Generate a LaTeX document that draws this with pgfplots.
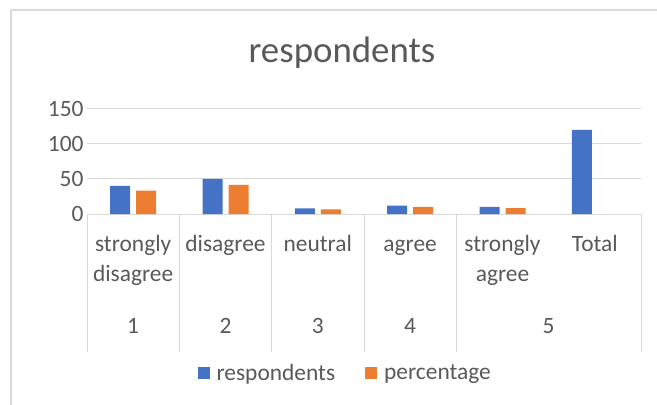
\documentclass[border=0pt]{standalone}
\usepackage{pgfplots}
\pgfplotsset{compat=1.18}
\usepackage{fontspec}
\setmainfont{Carlito}
\definecolor{txt}{HTML}{595959}
\definecolor{gridc}{HTML}{D9D9D9}
\definecolor{cblue}{HTML}{4472C4}
\definecolor{corange}{HTML}{ED7D31}
\begin{document}
\begin{tikzpicture}
\useasboundingbox (0,0) rectangle (657bp,405bp);
\draw[gridc, line width=1.3bp] (11bp,0) -- (11bp,395bp) -- (700bp,395bp);
\node[text=txt, font=\fontsize{37}{44}\selectfont, anchor=base] at (342bp,342bp) {respondents};
\begin{axis}[
  at={(87bp,191bp)}, anchor=south west,
  scale only axis, width=554bp, height=105bp,
  xmin=-0.5, xmax=5.5, ymin=0, ymax=150,
  ybar=6bp, bar width=20bp,
  ytick={0,50,100,150},
  ymajorgrids, grid style={gridc, line width=1bp},
  axis line style={draw=none},
  tick style={draw=none},
  xtick={0,1,2,3,4,5},
  xticklabels={{\strut strongly\\\strut disagree},{\strut disagree},{\strut neutral},{\strut agree},{\strut strongly\\\strut agree},{\strut Total}},
  ticklabel style={font=\fontsize{23.5}{30}\selectfont, text=txt},
  xticklabel style={align=center, anchor=north, yshift=-9bp},
  /pgf/number format/assume math mode=true,
  clip=false,
  legend style={at={(0.466,-1.514)}, anchor=center, draw=none, fill=none,
    font=\fontsize{23.5}{30}\selectfont, text=txt,
    /tikz/every even column/.append style={column sep=28bp}},
  legend columns=2,
]
\addplot[fill=cblue, draw=none, legend image code/.code={\fill[cblue] (0bp,-6bp) rectangle (12bp,6bp); \path (0bp,0bp) (17bp,0bp);}]
  coordinates {(0,40) (1,50) (2,8) (3,12) (4,10) (5,120)};
\addplot[fill=corange, draw=none, legend image code/.code={\fill[corange] (0bp,-6bp) rectangle (12bp,6bp); \path (0bp,0bp) (17bp,0bp);}]
  coordinates {(0,33.33) (1,41.67) (2,6.67) (3,10) (4,8.33)};
\legend{respondents, percentage}
\foreach \xx in {-0.5,0.5,1.5,2.5,3.5,5.5}{
  \edef\tmp{\noexpand\draw[gridc, line width=1bp] (axis cs:\xx,0) -- ++(0bp,-138bp);}
  \tmp
}
\node[text=txt, font=\fontsize{23.5}{30}\selectfont, anchor=base, yshift=-119bp] at (axis cs:0,0) {1};
\node[text=txt, font=\fontsize{23.5}{30}\selectfont, anchor=base, yshift=-119bp] at (axis cs:1,0) {2};
\node[text=txt, font=\fontsize{23.5}{30}\selectfont, anchor=base, yshift=-119bp] at (axis cs:2,0) {3};
\node[text=txt, font=\fontsize{23.5}{30}\selectfont, anchor=base, yshift=-119bp] at (axis cs:3,0) {4};
\node[text=txt, font=\fontsize{23.5}{30}\selectfont, anchor=base, yshift=-119bp] at (axis cs:4.5,0) {5};
\end{axis}
\end{tikzpicture}
\end{document}
